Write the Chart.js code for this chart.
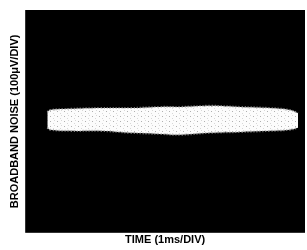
<!DOCTYPE html>
<html>
<head>
<meta charset="utf-8">
<script src="https://cdn.jsdelivr.net/npm/chart.js@4/dist/chart.umd.min.js"></script>
<style>
  html, body { margin: 0; padding: 0; background: #fff; }
  #wrap { width: 307px; height: 250px; }
</style>
</head>
<body>
<div id="wrap"><canvas id="noiseChart" width="307" height="250"></canvas></div>
<script>
// time positions (ms) where the band edges were read
var timeMs = [0.79, 0.89, 1.6, 2.68, 3.75, 4.82, 5.54, 6.6, 7.68, 8.75, 9.46, 9.75];
// upper and lower edge of the noise band (divisions of 100uV)
var upperEdge = [0.34, 0.41, 0.45, 0.48, 0.48, 0.52, 0.52, 0.56, 0.52, 0.48, 0.41, 0.30];
var lowerEdge = [-0.23, -0.30, -0.34, -0.34, -0.41, -0.45, -0.48, -0.41, -0.38, -0.34, -0.30, -0.23];

function toPoints(ys) {
    return timeMs.map(function (t, i) { return { x: t, y: ys[i] }; });
}

// speckled fill for the trace, like a scope photo
function makeSpeckle() {
    var c = document.createElement('canvas');
    c.width = 7; c.height = 5;
    var g = c.getContext('2d');
    g.fillStyle = '#fcfcfc';
    g.fillRect(0, 0, 7, 5);
    g.fillStyle = '#b0b0b0';
    g.fillRect(1, 1, 1, 1);
    g.fillStyle = '#d8d8d8';
    g.fillRect(4, 3, 1, 1);
    g.fillRect(5, 0, 1, 1);
    return g.createPattern(c, 'repeat');
}

// black screen behind the plot
var screenBg = {
    id: 'screenBg',
    beforeDraw: function (chart) {
        var a = chart.chartArea;
        var ctx = chart.ctx;
        ctx.save();
        ctx.fillStyle = '#000';
        ctx.fillRect(a.left, a.top, a.right - a.left, a.bottom - a.top);
        ctx.restore();
    }
};

var titleFont = { family: "'Liberation Sans', Arial, Helvetica, sans-serif", size: 11, weight: 'bold' };

var noiseChart = new Chart(document.getElementById('noiseChart'), {
    type: 'line',
    data: {
        datasets: [{
            data: toPoints(lowerEdge),
            borderColor: 'rgba(170,170,170,0.9)',
            borderWidth: 2,
            borderDash: [1, 2],
            pointRadius: 0,
            tension: 0.4,
            fill: false
        }, {
            data: toPoints(upperEdge),
            borderColor: 'rgba(170,170,170,0.9)',
            borderWidth: 2,
            borderDash: [1, 2],
            pointRadius: 0,
            tension: 0.4,
            fill: { target: 0 },
            backgroundColor: makeSpeckle()
        }]
    },
    options: {
        responsive: false,
        animation: false,
        layout: { padding: { left: 4, right: 2, top: 10, bottom: 3 } },
        plugins: { legend: { display: false }, tooltip: { enabled: false } },
        scales: {
            x: {
                type: 'linear', min: 0, max: 10,
                grid: { display: false, drawTicks: false }, border: { display: false },
                ticks: { display: false },
                title: { display: true, text: 'TIME (1ms/DIV)', color: '#000', font: titleFont, padding: { top: 1, bottom: 0 } }
            },
            y: {
                type: 'linear', min: -4, max: 4,
                grid: { display: false, drawTicks: false }, border: { display: false },
                ticks: { display: false },
                title: { display: true, text: 'BROADBAND NOISE (100\u03BCV/DIV)', color: '#000', font: titleFont, padding: { top: 4, bottom: 4 } }
            }
        }
    },
    plugins: [screenBg]
});
</script>
</body>
</html>
